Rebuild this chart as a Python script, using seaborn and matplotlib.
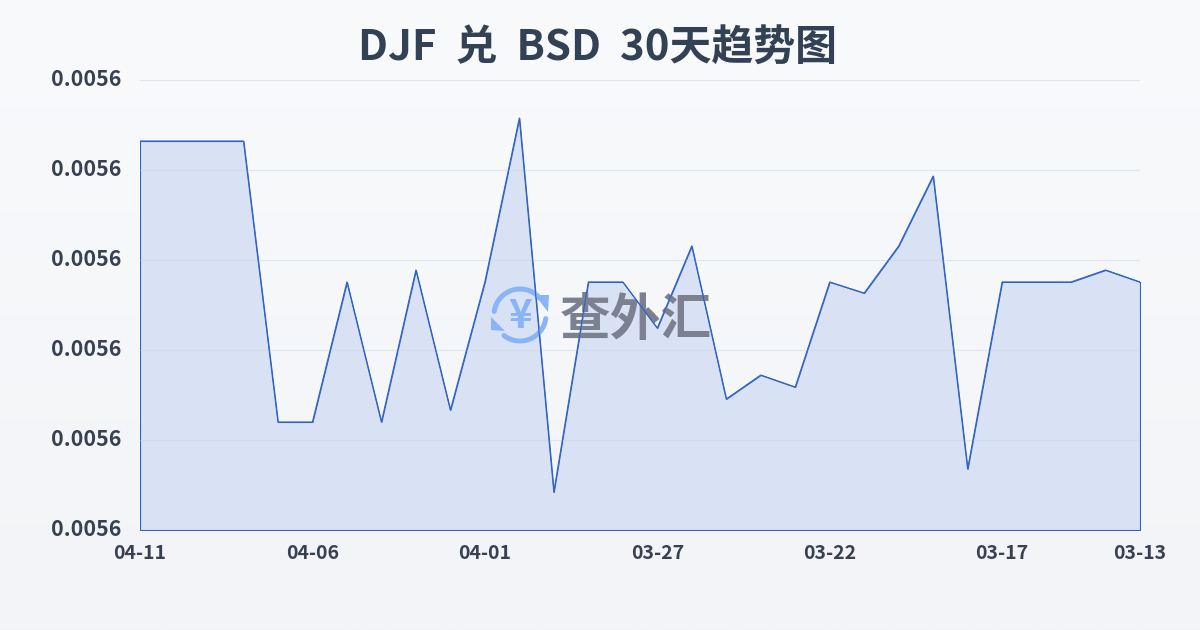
import matplotlib
matplotlib.use("Agg")
import matplotlib.pyplot as plt
from matplotlib.patches import Polygon
from matplotlib.transforms import Affine2D
import numpy as np
import pandas as pd
import seaborn as sns

fechas = ['04-11', '04-10', '04-09', '04-08', '04-07', '04-06', '04-05', '04-04', '04-03', '04-02',
          '04-01', '03-31', '03-30', '03-29', '03-28', '03-27', '03-26', '03-25', '03-24', '03-23',
          '03-22', '03-21', '03-20', '03-19', '03-18', '03-17', '03-16', '03-15', '03-14', '03-13']
tasas = [0.00562322, 0.00562322, 0.00562322, 0.00562322, 0.00559200, 0.00559200, 0.00560756, 0.00559200,
         0.00560889, 0.00559333, 0.00560756, 0.00562578, 0.00558422, 0.00560756, 0.00560756, 0.00560244,
         0.00561156, 0.00559456, 0.00559722, 0.00559589, 0.00560756, 0.00560633, 0.00561156, 0.00561933,
         0.00558678, 0.00560756, 0.00560756, 0.00560756, 0.00560889, 0.00560756]
ticks_x = ['04-11', '04-06', '04-01', '03-27', '03-22', '03-17', '03-13']
ticks_y = [0.00558, 0.00559, 0.00560, 0.00561, 0.00562, 0.00563]

sns.set_theme(style="white")
plt.rcParams['font.family'] = ['Noto Sans CJK SC', 'DejaVu Sans']

TEXTO = '#374151'
AZUL = '#2f62c4'
REJILLA = '#e2e8f0'

df = pd.DataFrame({'fecha': fechas, 'tasa': tasas})

fig = plt.figure(figsize=(12, 6.3), dpi=100)

# fondo degradado
fondo = fig.add_axes([0, 0, 1, 1], zorder=0)
fondo.imshow(np.linspace(0, 1, 256).reshape(-1, 1, 1) * np.array([0xf2 - 0xf8, 0xf4 - 0xfa, 0xf7 - 0xfc]) / 255
             + np.array([0xf8, 0xfa, 0xfc]) / 255, aspect='auto', extent=[0, 1, 0, 1])
fondo.axis('off')

ax = fig.add_axes([140 / 1200, 100 / 630, 1000 / 1200, 450 / 630], zorder=1)
ax.patch.set_alpha(0)

ax.fill_between(range(len(tasas)), tasas, ticks_y[0], facecolor='#d9e2f5', edgecolor=AZUL,
                linewidth=0.8, zorder=2)
sns.lineplot(data=df, x='fecha', y='tasa', sort=False, color=AZUL, linewidth=0.8, ax=ax, zorder=4)

ax.set_xlim(0, len(tasas) - 1)
ax.set_ylim(ticks_y[0], ticks_y[-1])
ax.set_xticks([fechas.index(f) for f in ticks_x])
ax.set_xticklabels(ticks_x, fontweight='bold')
ax.set_yticks(ticks_y)
ax.set_yticklabels([f'{v:.4f}' for v in ticks_y], fontweight='bold')
ax.set_xlabel('')
ax.set_ylabel('')
ax.grid(axis='y', color='#cbd5e1', linewidth=0.8, zorder=3, alpha=0.5)
ax.set_axisbelow(False)
ax.tick_params(axis='x', length=7, width=0.8, color=REJILLA, pad=3, labelsize=14, labelcolor=TEXTO)
ax.tick_params(axis='y', length=0, pad=13.5, labelsize=15.4, labelcolor=TEXTO)
sns.despine(ax=ax, left=True, bottom=True)

# las etiquetas del eje y van 2 px mas arriba que la rejilla
for lab in ax.get_yticklabels():
    lab.set_transform(lab.get_transform() + Affine2D().translate(0, 2))

fig.text(598 / 1200, 1 - 49 / 630, 'DJF  兑  BSD  30天趋势图', ha='center', va='center', fontsize=30.2,
         fontweight='bold', color='#334155')

# marca de agua, en pixeles de la imagen
px = Affine2D().scale(1, -1).translate(0, 630)
CLARO = '#8ab4f8'
cx, cy, r = 520, 315, 26
for ini, fin in [(40, 172), (232, 352)]:
    ang = np.radians(np.linspace(ini, fin, 60))
    ax.plot(cx + r * np.cos(ang), cy - r * np.sin(ang), color=CLARO, lw=3.6, transform=px,
            clip_on=False, zorder=3, solid_capstyle='round')
for tri in ([(535, 295), (549, 295), (548, 312)], [(491, 317), (491, 330), (505, 331)]):
    ax.add_patch(Polygon(tri, closed=True, facecolor=CLARO, edgecolor='none', transform=px, zorder=3, clip_on=False))
ax.text(520, 316, '¥', color=CLARO, fontsize=29, fontweight='bold', ha='center', va='center', transform=px, zorder=3)
ax.text(636, 320, '查外汇', color='#7b8191', fontsize=36.5, fontweight='bold', ha='center', va='center',
        transform=px, zorder=3)

fig.savefig('out.png', dpi=100)
